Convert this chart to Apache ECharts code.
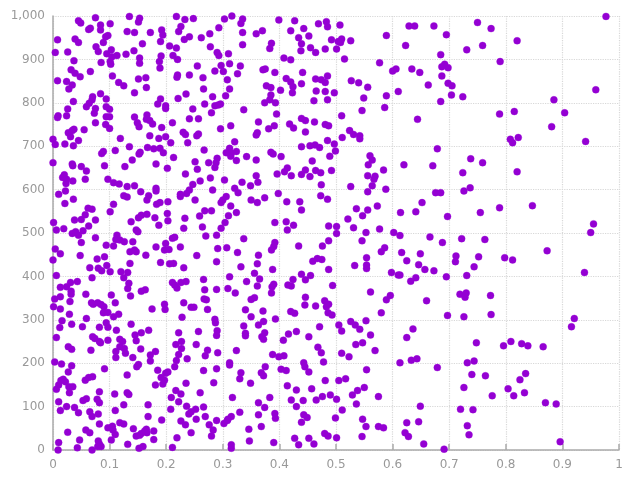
<!DOCTYPE html>
<html>
<head>
<meta charset="utf-8">
<script src="https://cdn.jsdelivr.net/npm/echarts@6/dist/echarts.min.js"></script>
<style>html,body{margin:0;padding:0;background:#fff}#c{width:640px;height:480px}</style>
</head>
<body>
<div id="c"></div>
<script>
var xTicks = [0, 0.1, 0.2, 0.3, 0.4, 0.5, 0.6, 0.7, 0.8, 0.9, 1];
var yTicks = [0, 100, 200, 300, 400, 500, 600, 700, 800, 900, 1000];

var bandTopLeft = [
[0.075,996],[0.045,989],[0.049,984],[0.084,979],[0.101,982],[0.066,972],[0.063,969],[0.084,968],[0.135,999],[0.153,995],
[0.151,986],[0.131,964],[0.144,962],[0.172,962],[0.218,999],[0.226,976],[0.222,964],[0.233,992],[0.192,968],[0.194,956],
[0.008,945],[0.004,916],[0.026,917],[0.039,947],[0.045,939],[0.037,897],[0.076,929],[0.080,918],[0.093,952],[0.097,955],
[0.089,939],[0.085,893],[0.095,913],[0.103,922],[0.104,906],[0.101,895],[0.102,889],[0.113,909],[0.129,912],[0.143,920],
[0.158,936],[0.153,903],[0.153,891],[0.190,941],[0.206,931],[0.218,926],[0.191,908],[0.188,895],[0.189,880],[0.212,909],
[0.220,900],[0.232,946],[0.008,851],[0.024,849],[0.032,876],[0.039,868],[0.048,860],[0.034,841],[0.028,832],[0.066,872],
[0.105,862],[0.116,847],[0.125,839],[0.144,823],[0.151,855],[0.164,858],[0.165,835],[0.220,864],[0.219,859],[0.235,820],
[0.036,803],[0.026,786],[0.009,770],[0.008,766],[0.024,770],[0.070,814],[0.069,807],[0.084,821],[0.059,791],[0.064,799],
[0.075,787],[0.073,776],[0.075,754],[0.094,809],[0.094,791],[0.100,785],[0.094,768],[0.100,768],[0.093,750],[0.100,741],
[0.144,767],[0.149,754],[0.152,745],[0.166,772],[0.165,762],[0.171,759],[0.176,751],[0.185,797],[0.199,793],[0.199,787],
[0.190,809],[0.221,810],[0.211,754],[0.192,743],[0.055,738],[0.037,739],[0.034,736],[0.027,731],[0.031,722],[0.045,713],
[0.000,716],[0.004,704],[0.021,705],[0.036,701],[0.119,718],[0.135,699],[0.171,724],[0.167,697],[0.178,694],[0.187,718],
[0.199,722],[0.189,695],[0.195,685],[0.208,708],[0.230,732],[0.234,727],[0.086,683],[0.089,688],[0.110,690],[0.152,682],
[0.154,686]
];

var bandTopMid = [
[0.248,994],[0.303,993],[0.316,1000],[0.332,983],[0.335,993],[0.293,973],[0.241,952],[0.262,950],[0.277,959],[0.335,962],
[0.278,929],[0.290,916],[0.293,909],[0.310,913],[0.335,934],[0.359,959],[0.370,966],[0.386,937],[0.383,925],[0.399,991],
[0.427,989],[0.420,966],[0.443,971],[0.434,950],[0.439,936],[0.438,920],[0.452,954],[0.455,927],[0.464,916],[0.469,982],
[0.483,987],[0.485,975],[0.492,945],[0.481,924],[0.408,903],[0.420,899],[0.241,864],[0.255,885],[0.265,858],[0.286,873],
[0.297,886],[0.301,872],[0.312,890],[0.308,853],[0.326,867],[0.331,885],[0.266,832],[0.282,814],[0.312,832],[0.305,816],
[0.371,876],[0.375,878],[0.392,870],[0.377,839],[0.385,835],[0.385,818],[0.402,829],[0.374,800],[0.383,807],[0.393,800],
[0.412,856],[0.420,848],[0.424,837],[0.423,823],[0.439,844],[0.441,870],[0.464,855],[0.474,853],[0.481,847],[0.485,862],
[0.465,827],[0.481,826],[0.461,805],[0.485,807],[0.247,786],[0.268,797],[0.286,793],[0.292,795],[0.296,797],[0.280,777],
[0.241,763],[0.257,763],[0.337,784],[0.395,774],[0.257,728],[0.254,724],[0.238,708],[0.296,740],[0.314,747],[0.363,756],
[0.361,731],[0.359,726],[0.381,740],[0.391,747],[0.418,751],[0.425,742],[0.439,764],[0.446,759],[0.462,756],[0.446,733],
[0.481,750],[0.487,747],[0.485,713],[0.321,710],[0.439,699],[0.454,701],[0.463,703],[0.471,697],[0.267,691],[0.312,695],
[0.306,685],[0.315,684],[0.324,688],[0.385,686],[0.389,682]
];

var bandTopRight = [
[0.507,979],[0.504,941],[0.510,947],[0.508,939],[0.526,943],[0.501,924],[0.515,901],[0.589,955],[0.629,977],[0.639,977],
[0.673,977],[0.695,957],[0.623,932],[0.685,911],[0.731,922],[0.577,892],[0.600,873],[0.606,878],[0.634,878],[0.648,870],
[0.687,883],[0.692,889],[0.698,881],[0.687,862],[0.698,845],[0.705,839],[0.704,818],[0.724,814],[0.663,841],[0.527,851],
[0.540,846],[0.556,836],[0.497,823],[0.549,811],[0.589,816],[0.610,826],[0.586,789],[0.546,782],[0.685,803],[0.510,770],
[0.644,762],[0.524,736],[0.531,727],[0.542,724],[0.542,717],[0.511,720],[0.497,705],[0.499,689],[0.679,694],
[0.750,985],[0.774,971],[0.759,932],[0.820,943],[0.977,999],[0.790,895],[0.959,830],[0.885,807],[0.789,774],[0.815,780],
[0.904,777],[0.881,745],[0.808,716],[0.812,708],[0.822,720],[0.941,711]
];

var bandMidLeft = [
[0.213,674],[0.000,662],[0.034,659],[0.035,655],[0.050,653],[0.059,643],[0.091,655],[0.127,653],[0.140,668],[0.182,659],
[0.202,649],[0.234,636],[0.020,634],[0.017,628],[0.024,624],[0.023,614],[0.035,620],[0.057,624],[0.097,624],[0.107,616],
[0.117,613],[0.131,607],[0.144,609],[0.010,589],[0.022,597],[0.036,578],[0.021,568],[0.125,586],[0.131,583],[0.155,595],
[0.169,586],[0.166,576],[0.182,603],[0.182,597],[0.183,566],[0.189,570],[0.203,572],[0.225,589],[0.225,584],[0.236,591],
[0.101,549],[0.107,566],[0.138,526],[0.151,535],[0.156,541],[0.166,543],[0.180,535],[0.187,518],[0.202,545],[0.203,528],
[0.233,534],[0.001,524],[0.006,507],[0.019,510],[0.038,530],[0.050,531],[0.057,542],[0.062,557],[0.069,555],[0.075,530],
[0.063,516],[0.053,505],[0.034,499],[0.040,503],[0.045,495],[0.050,478],[0.075,489],[0.048,448],[0.013,452],[0.004,463],
[0.000,438],[0.113,495],[0.111,485],[0.118,484],[0.126,480],[0.141,480],[0.147,507],[0.150,503],[0.094,472],[0.107,470],
[0.136,457],[0.144,461],[0.147,457],[0.164,449],[0.182,468],[0.199,476],[0.197,461],[0.205,462],[0.211,488],[0.215,490],
[0.225,468],[0.231,511],[0.078,440],[0.091,445],[0.065,420],[0.069,397],[0.080,419],[0.086,413],[0.095,425],[0.101,411],
[0.120,411],[0.132,409],[0.125,397],[0.134,384],[0.132,372],[0.137,355],[0.156,366],[0.163,369],[0.136,430],[0.190,432],
[0.206,429],[0.213,430],[0.231,420],[0.211,386],[0.215,380],[0.219,373],[0.226,386],[0.235,388],[0.006,402],[0.013,375],
[0.024,376],[0.031,386],[0.032,366],[0.032,359],[0.043,388],[0.058,359],[0.013,353],[0.003,348],[0.030,342],[0.103,357],
[0.110,339],[0.068,339],[0.071,336],[0.079,339],[0.085,335],[0.197,336],[0.231,339]
];

var bandMidMid = [
[0.314,677],[0.324,667],[0.403,676],[0.342,676],[0.359,668],[0.251,664],[0.255,647],[0.275,662],[0.290,672],[0.288,662],
[0.286,651],[0.260,620],[0.278,627],[0.303,622],[0.359,632],[0.362,617],[0.349,609],[0.334,617],[0.396,636],[0.409,641],
[0.414,650],[0.421,632],[0.439,635],[0.446,645],[0.454,630],[0.464,644],[0.473,639],[0.458,666],[0.489,677],[0.492,644],
[0.474,611],[0.247,612],[0.241,599],[0.282,599],[0.321,603],[0.327,593],[0.306,584],[0.300,576],[0.297,570],[0.314,562],
[0.324,547],[0.251,576],[0.350,576],[0.361,570],[0.374,581],[0.398,591],[0.413,572],[0.436,572],[0.439,553],[0.473,586],
[0.485,578],[0.268,551],[0.280,551],[0.259,539],[0.310,540],[0.304,524],[0.297,511],[0.264,514],[0.270,493],[0.289,495],
[0.392,524],[0.412,526],[0.414,507],[0.425,518],[0.487,516],[0.337,487],[0.392,478],[0.390,469],[0.386,461],[0.434,470],
[0.487,482],[0.476,470],[0.291,464],[0.307,466],[0.326,455],[0.363,449],[0.254,448],[0.289,434],[0.361,429],[0.332,422],
[0.388,416],[0.459,435],[0.467,441],[0.475,439],[0.487,416],[0.439,405],[0.446,392],[0.455,402],[0.356,407],[0.365,394],
[0.361,378],[0.342,388],[0.312,399],[0.266,393],[0.309,372],[0.289,370],[0.268,369],[0.322,362],[0.387,376],[0.390,382],
[0.386,362],[0.415,380],[0.421,378],[0.424,393],[0.350,347],[0.356,351],[0.267,348],[0.271,346],[0.480,344],[0.487,336],
[0.446,352]
];

var bandMidRight = [
[0.560,678],[0.564,668],[0.557,657],[0.584,645],[0.620,657],[0.671,655],[0.738,671],[0.724,639],[0.556,632],[0.569,631],
[0.567,624],[0.564,609],[0.526,607],[0.556,595],[0.588,601],[0.676,593],[0.685,593],[0.726,597],[0.737,604],[0.652,570],
[0.641,549],[0.614,547],[0.697,538],[0.536,556],[0.556,553],[0.573,562],[0.547,540],[0.521,532],[0.501,515],[0.501,499],
[0.531,512],[0.553,501],[0.577,509],[0.602,501],[0.613,494],[0.546,482],[0.586,466],[0.580,457],[0.666,491],[0.688,478],
[0.722,487],[0.616,455],[0.625,436],[0.649,452],[0.554,443],[0.554,426],[0.554,418],[0.533,425],[0.646,427],[0.657,416],
[0.673,413],[0.712,447],[0.711,434],[0.744,422],[0.598,409],[0.610,403],[0.613,403],[0.641,397],[0.632,389],[0.695,399],
[0.731,402],[0.494,379],[0.561,364],[0.596,356],[0.589,346],[0.660,344],[0.719,359],[0.730,362],[0.728,352],
[0.759,662],[0.820,641],[0.755,547],[0.789,558],[0.847,563],[0.955,521],[0.950,501],[0.763,485],[0.752,445],[0.798,443],
[0.812,438],[0.873,459],[0.939,409],[0.773,356]
];

var bandLowLeft = [
[0.001,330],[0.013,325],[0.090,330],[0.097,317],[0.089,316],[0.116,313],[0.107,307],[0.138,290],[0.175,325],[0.198,324],
[0.228,306],[0.029,313],[0.016,298],[0.033,290],[0.052,284],[0.059,303],[0.012,282],[0.082,283],[0.094,293],[0.097,283],
[0.112,276],[0.070,261],[0.074,257],[0.082,250],[0.084,247],[0.097,253],[0.006,259],[0.067,230],[0.027,238],[0.033,232],
[0.118,255],[0.123,250],[0.111,227],[0.111,213],[0.118,238],[0.126,234],[0.128,223],[0.145,265],[0.147,252],[0.156,270],
[0.169,276],[0.155,233],[0.141,213],[0.172,219],[0.172,205],[0.181,227],[0.003,203],[0.015,198],[0.033,194],[0.027,180],
[0.091,187],[0.148,192],[0.151,197],[0.131,173],[0.185,184],[0.199,177],[0.191,167],[0.197,161],[0.194,152],[0.203,180],
[0.181,150],[0.215,192],[0.218,206],[0.222,220],[0.227,234],[0.222,270],[0.227,250],[0.217,243],[0.006,140],[0.010,150],
[0.014,160],[0.018,163],[0.022,157],[0.028,146],[0.035,146],[0.029,132],[0.057,161],[0.063,167],[0.070,169],[0.082,134],
[0.010,111],[0.013,91],[0.024,100],[0.038,98],[0.045,86],[0.053,114],[0.059,118],[0.078,117],[0.082,109],[0.065,88],
[0.069,77],[0.080,83],[0.109,129],[0.131,132],[0.134,128],[0.110,91],[0.125,104],[0.168,104],[0.168,77],[0.208,94],
[0.192,69],[0.222,111],[0.236,101],[0.226,67],[0.234,58],[0.082,60],[0.097,51],[0.105,55],[0.106,46],[0.110,36],
[0.118,63],[0.125,60],[0.058,46],[0.065,40],[0.026,41],[0.047,23],[0.043,5],[0.010,17],[0.009,0],[0.080,21],
[0.082,14],[0.085,8],[0.079,8],[0.069,0],[0.103,23],[0.132,13],[0.142,49],[0.147,32],[0.153,34],[0.156,38],
[0.162,44],[0.166,40],[0.165,48],[0.178,44],[0.178,24],[0.152,4],[0.159,8],[0.211,6],[0.219,28],[0.235,154],
[0.226,129],[0.217,137],[0.209,121]
];

var bandLowMid = [
[0.244,329],[0.249,329],[0.273,324],[0.286,301],[0.287,293],[0.290,275],[0.289,264],[0.257,273],[0.253,243],[0.273,230],
[0.269,217],[0.291,224],[0.237,210],[0.324,229],[0.340,323],[0.350,307],[0.371,320],[0.337,286],[0.340,269],[0.340,263],
[0.363,288],[0.372,296],[0.374,270],[0.369,261],[0.372,255],[0.393,302],[0.312,201],[0.312,196],[0.332,178],[0.330,164],
[0.375,192],[0.368,178],[0.372,171],[0.349,154],[0.266,183],[0.289,187],[0.284,155],[0.260,132],[0.317,121],[0.383,121],
[0.363,109],[0.374,98],[0.240,83],[0.244,88],[0.252,94],[0.266,99],[0.269,77],[0.253,71],[0.244,40],[0.276,58],
[0.283,46],[0.280,32],[0.289,68],[0.302,61],[0.308,68],[0.315,77],[0.309,71],[0.330,87],[0.346,48],[0.347,21],
[0.363,81],[0.368,54],[0.390,17],[0.315,12],[0.315,4],[0.392,84],[0.393,73],[0.388,220],[0.399,215],[0.408,217],
[0.403,186],[0.412,183],[0.407,253],[0.416,267],[0.430,273],[0.420,319],[0.427,315],[0.445,334],[0.464,332],[0.483,330],
[0.486,316],[0.493,311],[0.471,284],[0.452,261],[0.468,237],[0.474,224],[0.478,203],[0.443,201],[0.445,192],[0.452,180],
[0.481,160],[0.457,141],[0.414,148],[0.430,138],[0.421,115],[0.442,114],[0.430,100],[0.465,115],[0.476,123],[0.490,127],
[0.443,81],[0.449,75],[0.439,64],[0.427,27],[0.434,12],[0.452,27],[0.461,14],[0.480,38],[0.486,32]
];

var bandLowRight = [
[0.580,316],[0.697,310],[0.726,307],[0.526,296],[0.534,288],[0.542,278],[0.553,298],[0.505,288],[0.510,274],[0.561,265],
[0.547,247],[0.535,243],[0.569,229],[0.510,223],[0.523,215],[0.625,259],[0.636,279],[0.613,201],[0.633,207],[0.643,210],
[0.679,190],[0.748,247],[0.732,201],[0.744,205],[0.740,174],[0.726,144],[0.554,185],[0.505,160],[0.517,164],[0.501,117],
[0.529,127],[0.538,137],[0.550,144],[0.536,106],[0.575,123],[0.649,101],[0.720,94],[0.742,93],[0.511,92],[0.499,74],
[0.547,71],[0.553,54],[0.575,54],[0.584,51],[0.625,63],[0.646,65],[0.622,40],[0.628,31],[0.732,56],[0.735,35],
[0.501,28],[0.546,31],[0.655,14],[0.691,2],
[0.774,312],[0.921,303],[0.916,284],[0.796,240],[0.809,250],[0.828,245],[0.839,240],[0.866,238],[0.764,171],[0.835,176],
[0.825,162],[0.804,141],[0.814,125],[0.776,125],[0.833,132],[0.870,109],[0.889,106],[0.896,19]
];

var points = [].concat(bandTopLeft, bandTopMid, bandTopRight, bandMidLeft, bandMidMid,
  bandMidRight, bandLowLeft, bandLowMid, bandLowRight);

var chart = echarts.init(document.getElementById('c'), null, {renderer: 'canvas'});
var gridLine = {show: true, lineStyle: {type: 'dotted', color: '#d8d8d8', width: 1.2}};
chart.setOption({
  animation: false,
  backgroundColor: '#ffffff',
  grid: {left: 53, right: 21, top: 16, bottom: 30, containLabel: false},
  xAxis: {
    type: 'value', min: xTicks[0], max: xTicks[xTicks.length - 1], interval: 0.1,
    axisLine: {show: true, lineStyle: {color: '#aaaaaa', width: 1.5}},
    axisTick: {show: true, inside: true, length: 6, lineStyle: {color: '#aaaaaa', width: 1.5}},
    axisLabel: {color: '#999999', fontSize: 12, margin: 9, fontFamily: 'DejaVu Sans',
      formatter: function (v) { return String(Math.round(v * 10) / 10); }},
    splitLine: gridLine
  },
  yAxis: {
    type: 'value', min: yTicks[0], max: yTicks[yTicks.length - 1], interval: 100,
    axisLine: {show: true, lineStyle: {color: '#aaaaaa', width: 1.5}},
    axisTick: {show: false},
    axisLabel: {color: '#999999', fontSize: 12, margin: 8, fontFamily: 'DejaVu Sans'},
    splitLine: gridLine
  },
  series: [{
    type: 'scatter',
    data: points,
    symbolSize: 7,
    itemStyle: {color: '#9400d3', opacity: 1, borderColor: 'rgba(148,0,211,0.35)', borderWidth: 1}
  }]
});
</script>
</body>
</html>
